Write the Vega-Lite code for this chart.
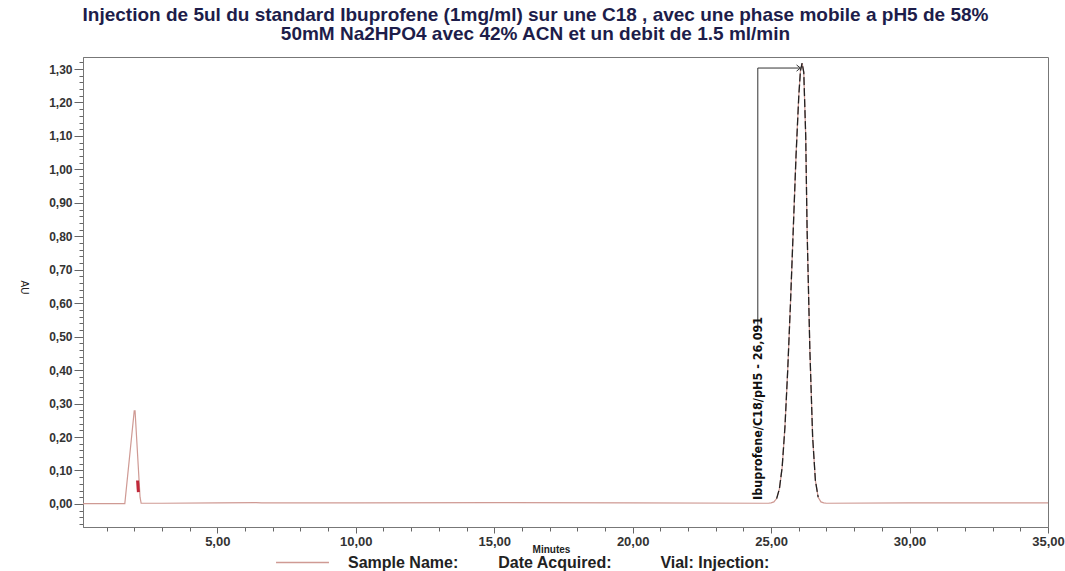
{
  "$schema": "https://vega.github.io/schema/vega-lite/v6.json",
  "width": 965,
  "height": 470,
  "autosize": {"type": "none"},
  "padding": {"left": 83, "top": 57, "right": 17, "bottom": 44},
  "background": "white",
  "title": {
    "text": ["Injection de 5ul du standard Ibuprofene (1mg/ml)  sur une C18 , avec une phase mobile a pH5 de 58%", "50mM Na2HPO4  avec 42% ACN et un debit de 1.5 ml/min"],
    "font": "Liberation Sans",
    "fontSize": 19,
    "fontWeight": "bold",
    "color": "#1d1d4a",
    "lineHeight": 19.5,
    "anchor": "middle",
    "dx": -30,
    "offset": 12
  },
  "config": {
    "view": {"stroke": "#777", "strokeWidth": 1},
    "axis": {"labelFont": "Liberation Sans", "titleFont": "Liberation Sans", "grid": false}
  },
  "datasets": {
    "trace": [
      {"t": 0.15, "au": 0.001}, {"t": 1.0, "au": 0.001}, {"t": 1.66, "au": 0.001},
      {"t": 2.0, "au": 0.278}, {"t": 2.03, "au": 0.278}, {"t": 2.21, "au": 0.02}, {"t": 2.25, "au": 0.002},
      {"t": 3.0, "au": 0.002}, {"t": 5.0, "au": 0.003}, {"t": 6.4, "au": 0.004}, {"t": 6.6, "au": 0.003},
      {"t": 10.0, "au": 0.003}, {"t": 15.0, "au": 0.004}, {"t": 20.0, "au": 0.003}, {"t": 24.9, "au": 0.002},
      {"t": 25.0, "au": 0.003}, {"t": 25.1, "au": 0.006}, {"t": 25.2, "au": 0.016}, {"t": 25.3, "au": 0.045},
      {"t": 25.4, "au": 0.11}, {"t": 25.5, "au": 0.23}, {"t": 25.6, "au": 0.4}, {"t": 25.7, "au": 0.6},
      {"t": 25.8, "au": 0.82}, {"t": 25.9, "au": 1.04}, {"t": 26.0, "au": 1.22}, {"t": 26.06, "au": 1.295},
      {"t": 26.12, "au": 1.318}, {"t": 26.18, "au": 1.29}, {"t": 26.25, "au": 1.1}, {"t": 26.3, "au": 0.82},
      {"t": 26.4, "au": 0.46}, {"t": 26.5, "au": 0.2}, {"t": 26.6, "au": 0.07}, {"t": 26.7, "au": 0.02},
      {"t": 26.8, "au": 0.006}, {"t": 26.9, "au": 0.003}, {"t": 27.0, "au": 0.002}, {"t": 30.0, "au": 0.003},
      {"t": 35.0, "au": 0.003}
    ],
    "shoulder": [{"t": 2.12, "au": 0.07}, {"t": 2.15, "au": 0.035}],
    "note": [{"x": 24.52, "ytop": 1.303, "ybot": 0.53, "xarrow": 26.06, "ylabel": 0.012, "label": "Ibuprofene/C18/pH5 - 26,091"}]
  },
  "layer": [
    {
      "data": {"name": "trace"},
      "mark": {"type": "line", "strokeWidth": 1.2, "interpolate": "linear"},
      "encoding": {
        "x": {
          "field": "t", "type": "quantitative",
          "scale": {"domain": [0.15, 35], "nice": false, "zero": false},
          "axis": {
            "title": "Minutes", "titleX": 468,
            "titleFontSize": 10, "titleFontWeight": "bold", "titleColor": "#222", "titlePadding": -4,
            "values": [1,2,3,4,5,6,7,8,9,10,11,12,13,14,15,16,17,18,19,20,21,22,23,24,25,26,27,28,29,30,31,32,33,34,35],
            "tickCount": 200,
            "labelExpr": "datum.value % 5 == 0 ? replace(format(datum.value, '.2f'), '.', ',') : ''",
            "labelFontSize": 13, "labelFontWeight": "bold", "labelColor": "#333", "labelPadding": 2,
            "labelOverlap": false, "labelFlush": false, "labelBound": false,
            "domainColor": "#777", "tickColor": "#666",
            "tickSize": {"condition": {"test": "datum.value % 5 == 0", "value": 6}, "value": 4}
          }
        },
        "y": {
          "field": "au", "type": "quantitative",
          "scale": {"domain": [-0.069, 1.336], "nice": false, "zero": false},
          "axis": {
            "title": "AU", "titleFontSize": 10, "titleFontWeight": "normal", "titleColor": "#222",
            "titleAngle": 90, "titleX": -65, "titleY": 230,
            "values": [-0.06,-0.04,-0.02,0,0.02,0.04,0.06,0.08,0.1,0.12,0.14,0.16,0.18,0.2,0.22,0.24,0.26,0.28,0.3,0.32,0.34,0.36,0.38,0.4,0.42,0.44,0.46,0.48,0.5,0.52,0.54,0.56,0.58,0.6,0.62,0.64,0.66,0.68,0.7,0.72,0.74,0.76,0.78,0.8,0.82,0.84,0.86,0.88,0.9,0.92,0.94,0.96,0.98,1.0,1.02,1.04,1.06,1.08,1.1,1.12,1.14,1.16,1.18,1.2,1.22,1.24,1.26,1.28,1.3,1.32],
            "tickCount": 200,
            "labelExpr": "abs(datum.value * 10 - round(datum.value * 10)) < 0.001 ? replace(format(datum.value, '.2f'), '.', ',') : ''",
            "labelFontSize": 12, "labelFontWeight": "bold", "labelColor": "#333", "labelPadding": 2,
            "labelOverlap": false, "labelFlush": false, "labelBound": false,
            "domainColor": "#777", "tickColor": "#666",
            "tickSize": {"condition": {"test": "abs(datum.value * 10 - round(datum.value * 10)) < 0.001", "value": 9}, "value": 4}
          }
        },
        "color": {
          "datum": "Sample Name:\u00a0\u00a0\u00a0\u00a0\u00a0\u00a0\u00a0\u00a0\u00a0Date Acquired:\u00a0\u00a0\u00a0\u00a0\u00a0\u00a0\u00a0\u00a0\u00a0\u00a0\u00a0Vial: Injection:",
          "type": "nominal",
          "scale": {"range": ["#cf9a94"]},
          "legend": {
            "title": null, "orient": "none", "legendX": 192, "legendY": 478,
            "symbolType": "stroke", "symbolSize": 2800, "symbolStrokeWidth": 1.5,
            "labelFont": "Liberation Sans", "labelFontSize": 16, "labelFontWeight": "bold", "labelColor": "#222",
            "labelLimit": 0, "labelOffset": 18
          }
        }
      }
    },
    {
      "data": {"name": "trace"},
      "transform": [{"filter": "datum.t >= 25.2 && datum.t <= 26.7"}],
      "mark": {"type": "line", "stroke": "#222", "strokeWidth": 1.3, "strokeDash": [8, 3]},
      "encoding": {
        "x": {"field": "t", "type": "quantitative"},
        "y": {"field": "au", "type": "quantitative"}
      }
    },
    {
      "data": {"name": "shoulder"},
      "mark": {"type": "line", "stroke": "#c0283a", "strokeWidth": 3},
      "encoding": {
        "x": {"field": "t", "type": "quantitative"},
        "y": {"field": "au", "type": "quantitative"}
      }
    },
    {
      "data": {"name": "note"},
      "mark": {"type": "rule", "stroke": "#333", "strokeWidth": 1},
      "encoding": {
        "x": {"field": "x", "type": "quantitative"},
        "y": {"field": "ybot", "type": "quantitative"},
        "y2": {"field": "ytop"}
      }
    },
    {
      "data": {"name": "note"},
      "mark": {"type": "rule", "stroke": "#333", "strokeWidth": 1},
      "encoding": {
        "x": {"field": "x", "type": "quantitative"},
        "x2": {"field": "xarrow"},
        "y": {"field": "ytop", "type": "quantitative"}
      }
    },
    {
      "data": {"name": "note"},
      "mark": {"type": "point", "shape": "M-1,-0.8L0,0L-1,0.8", "size": 60, "filled": false, "stroke": "#333", "strokeWidth": 1, "opacity": 1},
      "encoding": {
        "x": {"field": "xarrow", "type": "quantitative"},
        "y": {"field": "ytop", "type": "quantitative"}
      }
    },
    {
      "data": {"name": "note"},
      "mark": {"type": "text", "angle": 270, "align": "left", "baseline": "middle", "font": "DejaVu Sans Condensed", "fontSize": 12.5, "fontWeight": "bold", "color": "#111"},
      "encoding": {
        "x": {"field": "x", "type": "quantitative"},
        "y": {"field": "ylabel", "type": "quantitative"},
        "text": {"field": "label"}
      }
    }
  ]
}
